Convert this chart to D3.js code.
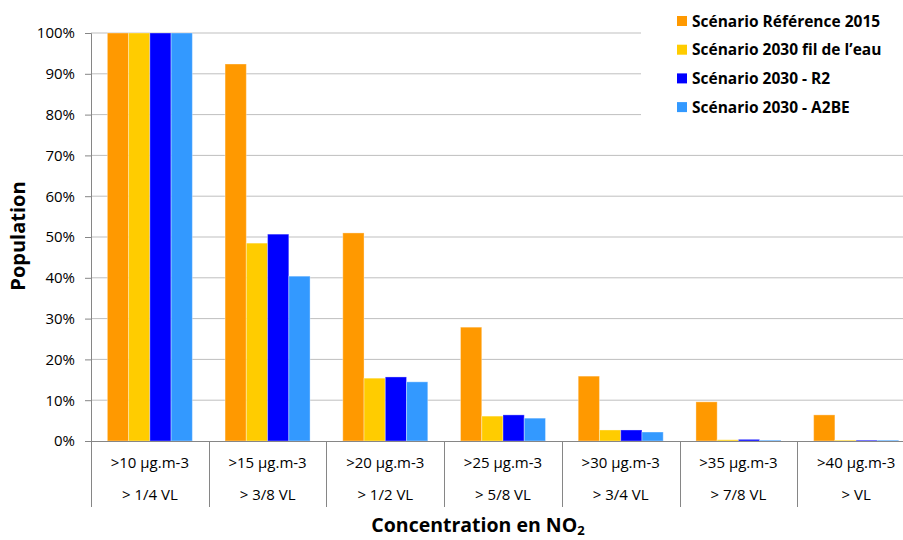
<!DOCTYPE html>
<html>
<head>
<meta charset="utf-8">
<script src="https://cdn.jsdelivr.net/npm/d3@7"></script>
<style>
  html, body { margin: 0; padding: 0; background: #fff; }
  svg { display: block; font-family: "Open Sans", "Liberation Sans", sans-serif; }
</style>
</head>
<body>
<svg id="chart" width="903" height="540"></svg>
<script>
const categories = [">10 µg.m-3", ">15 µg.m-3", ">20 µg.m-3", ">25 µg.m-3", ">30 µg.m-3", ">35 µg.m-3", ">40 µg.m-3"];
const subLabels = ["> 1/4 VL", "> 3/8 VL", "> 1/2 VL", "> 5/8 VL", "> 3/4 VL", "> 7/8 VL", "> VL"];
const seriesNames = ["Scénario Référence 2015", "Scénario 2030 fil de l’eau", "Scénario 2030 - R2", "Scénario 2030 - A2BE"];
const seriesColors = ["#FF9900", "#FFCC00", "#0000FF", "#3399FF"];
const ref2015 = [100, 92.4, 51.0, 27.9, 15.9, 9.6, 6.4];
const fil2030 = [100, 48.5, 15.4, 6.1, 2.7, 0.3, 0.2];
const r2_2030 = [100, 50.7, 15.7, 6.4, 2.7, 0.4, 0.2];
const a2be2030 = [100, 40.4, 14.5, 5.6, 2.2, 0.2, 0.2];
const seriesValues = [ref2015, fil2030, r2_2030, a2be2030];
const yTicks = [0, 10, 20, 30, 40, 50, 60, 70, 80, 90, 100];

(function () {
const svg = d3.select("#chart");
const mLeft = 91, mRight = 915, mTop = 33, mBottom = 441;

const x0 = d3.scaleBand().domain(categories).range([mLeft, mRight]).paddingInner(0).paddingOuter(0);
const bw = x0.bandwidth();
const groupW = 85;
const x1 = d3.scaleBand().domain(seriesNames).range([(bw - groupW) / 2, (bw + groupW) / 2]).padding(0);
const y = d3.scaleLinear().domain([0, 100]).range([mBottom, mTop]);

// gridlines + y axis
const yAxis = d3.axisLeft(y).tickValues(yTicks).tickFormat(d => d + "%").tickSize(6).tickPadding(10);
const gy = svg.append("g").attr("transform", `translate(${mLeft},0)`);
gy.selectAll("line.grid").data(yTicks.filter(d => d > 0)).join("line")
  .attr("class", "grid")
  .attr("x1", 0).attr("x2", 903 - mLeft)
  .attr("y1", d => y(d)).attr("y2", d => y(d))
  .attr("stroke", "#BFBFBF").attr("stroke-width", 1);
gy.call(yAxis);
gy.select(".domain").attr("stroke", "#868686");
gy.selectAll(".tick line").attr("stroke", "#868686");
gy.selectAll(".tick text").attr("font-size", 15).attr("fill", "#000")
  .attr("font-family", "Open Sans, sans-serif");

// bars
const groups = svg.append("g").selectAll("g").data(categories).join("g")
  .attr("transform", d => `translate(${x0(d)},0)`);
groups.selectAll("rect").data((c, i) => seriesNames.map((s, k) => ({ s, k, v: seriesValues[k][i] }))).join("rect")
  .attr("x", d => x1(d.s))
  .attr("width", x1.bandwidth())
  .attr("y", d => y(d.v))
  .attr("height", d => mBottom - y(d.v))
  .attr("fill", d => seriesColors[d.k])
  .attr("stroke", "#ffffff").attr("stroke-opacity", 0.35).attr("stroke-width", 1);

// x axis line
svg.append("line").attr("x1", mLeft).attr("x2", 903).attr("y1", mBottom + 0.5).attr("y2", mBottom + 0.5)
  .attr("stroke", "#868686");
// category boundary ticks
const bounds = categories.map(c => x0(c));
svg.append("g").selectAll("line").data(bounds).join("line")
  .attr("x1", d => Math.round(d) + 0.5).attr("x2", d => Math.round(d) + 0.5)
  .attr("y1", mBottom).attr("y2", 507)
  .attr("stroke", "#868686");
// category labels
svg.append("g").selectAll("text").data(categories).join("text")
  .attr("x", d => x0(d) + bw / 2).attr("y", 468)
  .attr("text-anchor", "middle").attr("font-size", 15).attr("fill", "#000")
  .text(d => d);
svg.append("g").selectAll("text").data(subLabels).join("text")
  .attr("x", (d, i) => x0(categories[i]) + bw / 2).attr("y", 500)
  .attr("text-anchor", "middle").attr("font-size", 15).attr("fill", "#000")
  .text(d => d);

// axis titles
const xt = svg.append("text").attr("x", 478).attr("y", 532).attr("text-anchor", "middle")
  .attr("font-size", 19.5).attr("font-weight", "bold").attr("fill", "#000");
xt.append("tspan").text("Concentration en NO");
xt.append("tspan").attr("font-size", 13).attr("dy", 3).text("2");

svg.append("text").attr("transform", "translate(25,236) rotate(-90)")
  .attr("text-anchor", "middle").attr("font-size", 20).attr("font-weight", "bold").attr("fill", "#000")
  .text("Population");

// legend
const lg = svg.append("g");
lg.append("rect").attr("x", 641).attr("y", 0).attr("width", 262).attr("height", 120).attr("fill", "#fff");
const items = lg.selectAll("g").data(seriesNames).join("g")
  .attr("transform", (d, i) => `translate(677, ${21 + i * 28.7})`);
items.append("rect").attr("x", 0).attr("y", -5).attr("width", 10).attr("height", 10)
  .attr("fill", (d, i) => seriesColors[i]);
items.append("text").attr("x", 15).attr("y", 5.5).attr("font-size", 15.5).attr("font-weight", "bold")
  .attr("fill", "#000").text(d => d);
})();
</script>
</body>
</html>
